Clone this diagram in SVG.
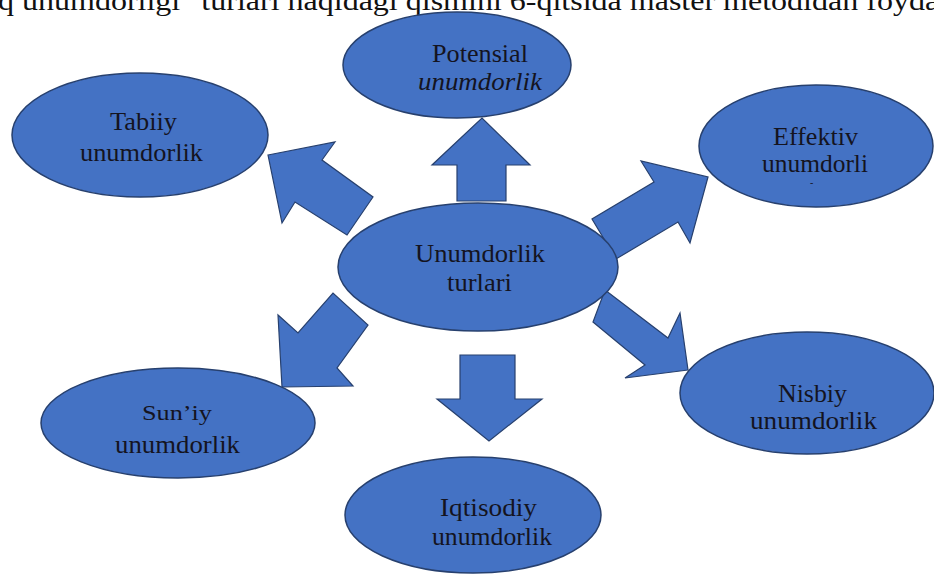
<svg xmlns="http://www.w3.org/2000/svg" width="934" height="574" viewBox="0 0 934 574">
<style>
.node{fill:#4472c4;stroke:#27406e;stroke-width:1.5}
.arr{fill:#4472c4;stroke:#27406e;stroke-width:1.2;stroke-linejoin:miter}
.t{font-family:"Liberation Serif","Times New Roman",serif;font-size:25px;fill:#14141f}
.top{font-family:"Liberation Serif","Times New Roman",serif;font-size:28px;fill:#111}
</style>
<rect width="934" height="574" fill="#ffffff"/>
<text class="top" x="-2" y="10" textLength="950" lengthAdjust="spacingAndGlyphs">q unumdorligi" turlari haqidagi qismini 6-qitsida master metodidan foydal</text>
<g id="connectors">
<polygon class="arr" points="457,201 457,165 432,165 482,118 530,165 506,165 506,201"/>
<polygon class="arr" points="460,355 515,355 515,399 542,399 489,441 437,399 460,399"/>
<polygon class="arr" points="268,155 335,142 322,160 373,197 347,235 295,202 282,223"/>
<polygon class="arr" points="708,177 690,243 678,222 616,259 592,219 654,182 641,161"/>
<polygon class="arr" points="282,387 278,315 298,333 333,293 368,325 337,368 353,386"/>
<polygon class="arr" points="688,370 625,378 645,365 593,322 605,290 668,338 680,313"/>
</g>
<g id="potensial">
<ellipse class="node" cx="457" cy="65" rx="114" ry="53"/>
<text class="t" x="432" y="62" textLength="96" lengthAdjust="spacingAndGlyphs">Potensial</text>
<text class="t" x="418" y="90" textLength="124" lengthAdjust="spacingAndGlyphs" font-style="italic">unumdorlik</text>
</g>
<g id="tabiiy">
<ellipse class="node" cx="140" cy="135" rx="128" ry="62"/>
<text class="t" x="110" y="130" textLength="67" lengthAdjust="spacingAndGlyphs">Tabiiy</text>
<text class="t" x="80" y="161" textLength="123" lengthAdjust="spacingAndGlyphs">unumdorlik</text>
</g>
<g id="effektiv">
<ellipse class="node" cx="816" cy="146" rx="117" ry="61"/>
<text class="t" x="773" y="145" textLength="85" lengthAdjust="spacingAndGlyphs">Effektiv</text>
<text class="t" x="762" y="172" textLength="106" lengthAdjust="spacingAndGlyphs">unumdorli</text>
<text class="t" x="810" y="186" style="font-size:10px">-</text>
</g>
<g id="central">
<ellipse class="node" cx="478" cy="267" rx="140" ry="64"/>
<text class="t" x="415" y="262" textLength="130" lengthAdjust="spacingAndGlyphs">Unumdorlik</text>
<text class="t" x="447" y="291" textLength="65" lengthAdjust="spacingAndGlyphs">turlari</text>
</g>
<g id="suniy">
<ellipse class="node" cx="178" cy="423" rx="137" ry="55"/>
<text class="t" x="142" y="420" textLength="70" lengthAdjust="spacingAndGlyphs" style="font-size:21px">Sun’iy</text>
<text class="t" x="115" y="453" textLength="125" lengthAdjust="spacingAndGlyphs">unumdorlik</text>
</g>
<g id="nisbiy">
<ellipse class="node" cx="807" cy="393" rx="127" ry="61"/>
<text class="t" x="778" y="402" textLength="69" lengthAdjust="spacingAndGlyphs">Nisbiy</text>
<text class="t" x="750" y="429" textLength="127" lengthAdjust="spacingAndGlyphs">unumdorlik</text>
</g>
<g id="iqtisodiy">
<ellipse class="node" cx="473" cy="515" rx="128" ry="58"/>
<text class="t" x="440" y="516" textLength="97" lengthAdjust="spacingAndGlyphs">Iqtisodiy</text>
<text class="t" x="432" y="545" textLength="120" lengthAdjust="spacingAndGlyphs">unumdorlik</text>
</g>
</svg>
